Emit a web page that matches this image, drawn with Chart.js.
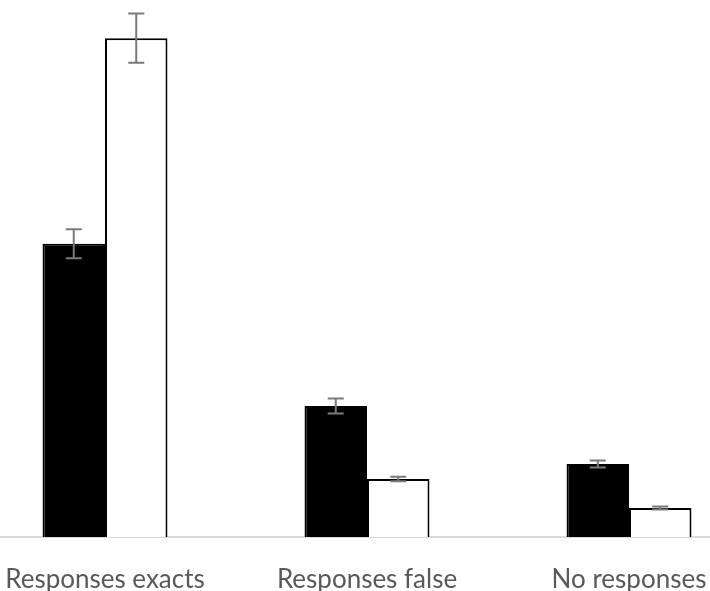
<!DOCTYPE html>
<html>
<head>
<meta charset="utf-8">
<script src="https://cdn.jsdelivr.net/npm/chart.js@4"></script>
<style>
  html, body { margin:0; padding:0; background:#fff; }
  body { width:710px; height:591px; overflow:hidden; position:relative; }
  #c { position:absolute; left:-26px; top:0; }
</style>
</head>
<body>
<canvas id="c" width="786" height="591"></canvas>
<script>
// values (arbitrary units, axis hidden)
const categories = ["Responses exacts", "Responses false", "No responses"];
const blackVals = [54.6, 24.4, 13.6];
const blackErr  = [2.7, 1.4, 0.65];
const whiteVals = [92.9, 10.8, 5.4];
const whiteErr  = [4.6, 0.4, 0.3];
const yMax = 100;

// error bars drawn through the scales
const errorBars = {
  id: 'errorBars',
  afterDatasetsDraw(chart){
    const ctx = chart.ctx;
    const y = chart.scales.y;
    ctx.save();
    ctx.strokeStyle = '#7a7a7a';
    ctx.lineWidth = 2;
    chart.data.datasets.forEach(function(ds, di){
      const meta = chart.getDatasetMeta(di);
      meta.data.forEach(function(bar, i){
        const v = ds.data[i], e = ds.errors[i];
        const top = y.getPixelForValue(v + e);
        const bot = y.getPixelForValue(v - e);
        const x = bar.x;
        const cap = 8;
        ctx.beginPath();
        ctx.moveTo(x, top); ctx.lineTo(x, bot);
        ctx.moveTo(x - cap, top); ctx.lineTo(x + cap, top);
        ctx.moveTo(x - cap, bot); ctx.lineTo(x + cap, bot);
        ctx.stroke();
      });
    });
    ctx.restore();
  }
};

new Chart(document.getElementById('c'), {
  type: 'bar',
  data: {
    labels: categories,
    datasets: [
      { data: blackVals, errors: blackErr, backgroundColor: '#000', borderColor: '#000', borderWidth: 2, borderSkipped: 'bottom' },
      { data: whiteVals, errors: whiteErr, backgroundColor: '#fff', borderColor: '#000', borderWidth: 2, borderSkipped: 'bottom' }
    ]
  },
  options: {
    responsive: false,
    animation: false,
    layout: { padding: 0 },
    plugins: { legend: { display: false }, tooltip: { enabled: false } },
    datasets: { bar: { categoryPercentage: 0.477, barPercentage: 1.0 } },
    scales: {
      x: {
        grid: { display: false },
        border: { display: true, color: '#d9d9d9', width: 2 },
        ticks: { color: '#595959', padding: 19, font: { family: 'Lato', size: 26 } },
        afterFit(scale){ scale.height = 54; }
      },
      y: { display: false, min: 0, max: yMax }
    }
  },
  plugins: [errorBars]
});
</script>
</body>
</html>
